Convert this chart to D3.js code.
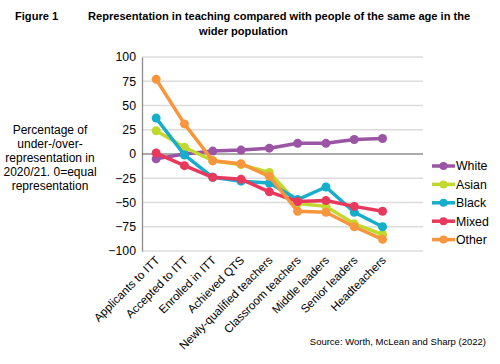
<!DOCTYPE html>
<html><head><meta charset="utf-8">
<script src="https://cdn.jsdelivr.net/npm/d3@7"></script>
<style>body{margin:0;background:#fff}svg{display:block;font-family:"Liberation Sans",Arial,sans-serif}</style>
</head><body><svg id="c" width="500" height="364"></svg>
<script>
const categories = ["Applicants to ITT","Accepted to ITT","Enrolled in ITT","Achieved QTS","Newly-qualified teachers","Classroom teachers","Middle leaders","Senior leaders","Headteachers"];
const seriesNames = ["White","Asian","Black","Mixed","Other"];
const white = [-5, 0, 3, 4, 6, 11, 11, 15, 16];
const asian = [24, 7, -7, -11, -19, -51, -54, -72, -83];
const black = [37, -1, -24, -28, -30, -47, -34, -60, -75];
const mixed = [1, -12, -24, -26, -39, -49, -48, -54, -59];
const other = [77, 31, -7, -10, -23, -59, -60, -75, -88];
const yTicks = [100, 75, 50, 25, 0, -25, -50, -75, -100];
const colors = ["#9b55a5","#c3d82e","#17aecb","#e8395d","#f7963c"];
const values = [white, asian, black, mixed, other];

(function(){
const svg = d3.select("#c");
const pLeft = 142, gridRight = 423, pTop = 57, pBottom = 251;
const x = d3.scaleBand().domain(categories).range([pLeft, pLeft + 9*28.3]);
const y = d3.scaleLinear().domain([-100, 100]).range([pBottom, pTop]);

svg.append("g").selectAll("line").data(yTicks.filter(d => d !== 0)).join("line")
  .attr("x1", pLeft).attr("x2", gridRight).attr("y1", d => y(d)).attr("y2", d => y(d))
  .attr("stroke", "#dcdcdc").attr("stroke-width", 1.3);

const yAxis = d3.axisLeft(y).tickValues(yTicks).tickSize(0).tickPadding(6);
const ya = svg.append("g").attr("transform", `translate(${pLeft},0)`).call(yAxis);
ya.select(".domain").attr("stroke", "#8c8c8c").attr("stroke-width", 1.3);
ya.selectAll("text").attr("font-size", 12.3).attr("fill", "#000").attr("font-family", "Liberation Sans, Arial, sans-serif");

svg.append("line").attr("x1", pLeft).attr("x2", gridRight).attr("y1", y(0)).attr("y2", y(0))
  .attr("stroke", "#595959").attr("stroke-width", 1.2);

const xa = svg.append("g");
xa.selectAll("text").data(categories).join("text")
  .attr("transform", d => `translate(${x(d) + x.bandwidth()/2 + 4},${pBottom + 10}) rotate(-45)`)
  .attr("text-anchor", "end").attr("font-size", 11.6).attr("fill", "#000").text(d => d);

const line = d3.line().x((d, i) => x(categories[i]) + x.bandwidth()/2).y(d => y(d));
values.forEach((vals, si) => {
  const g = svg.append("g");
  g.append("path").datum(vals).attr("d", line).attr("fill", "none")
    .attr("stroke", colors[si]).attr("stroke-width", 3.5).attr("stroke-linejoin", "round");
  g.selectAll("circle").data(vals).join("circle")
    .attr("cx", (d, i) => x(categories[i]) + x.bandwidth()/2).attr("cy", d => y(d))
    .attr("r", 4.5).attr("fill", colors[si]);
});

const lg = svg.append("g");
seriesNames.forEach((n, i) => {
  const ly = 166 + i*18.4;
  lg.append("line").attr("x1", 432).attr("x2", 455).attr("y1", ly).attr("y2", ly)
    .attr("stroke", colors[i]).attr("stroke-width", 3.5);
  lg.append("circle").attr("cx", 443.5).attr("cy", ly).attr("r", 4).attr("fill", colors[i]);
  lg.append("text").attr("x", 456).attr("y", ly + 4.3).attr("font-size", 12.3).attr("fill", "#000").text(n);
});

svg.append("text").attr("x", 15).attr("y", 19.5).attr("font-size", 11.1).attr("font-weight", "bold").text("Figure 1");
svg.append("text").attr("x", 88).attr("y", 19.5).attr("font-size", 11.1).attr("font-weight", "bold")
  .text("Representation in teaching compared with people of the same age in the");
svg.append("text").attr("x", 199).attr("y", 35).attr("font-size", 11.1).attr("font-weight", "bold").text("wider population");

const yt = ["Percentage of","under-/over-","representation in","2020/21. 0=equal","representation"];
svg.append("g").selectAll("text").data(yt).join("text")
  .attr("x", 50).attr("y", (d, i) => 134 + i*14).attr("text-anchor", "middle")
  .attr("font-size", 12).attr("fill", "#000").text(d => d);

svg.append("text").attr("x", 486).attr("y", 345).attr("text-anchor", "end").attr("font-size", 9.5)
  .attr("fill", "#000").text("Source: Worth, McLean and Sharp (2022)");
})();
</script></body></html>
